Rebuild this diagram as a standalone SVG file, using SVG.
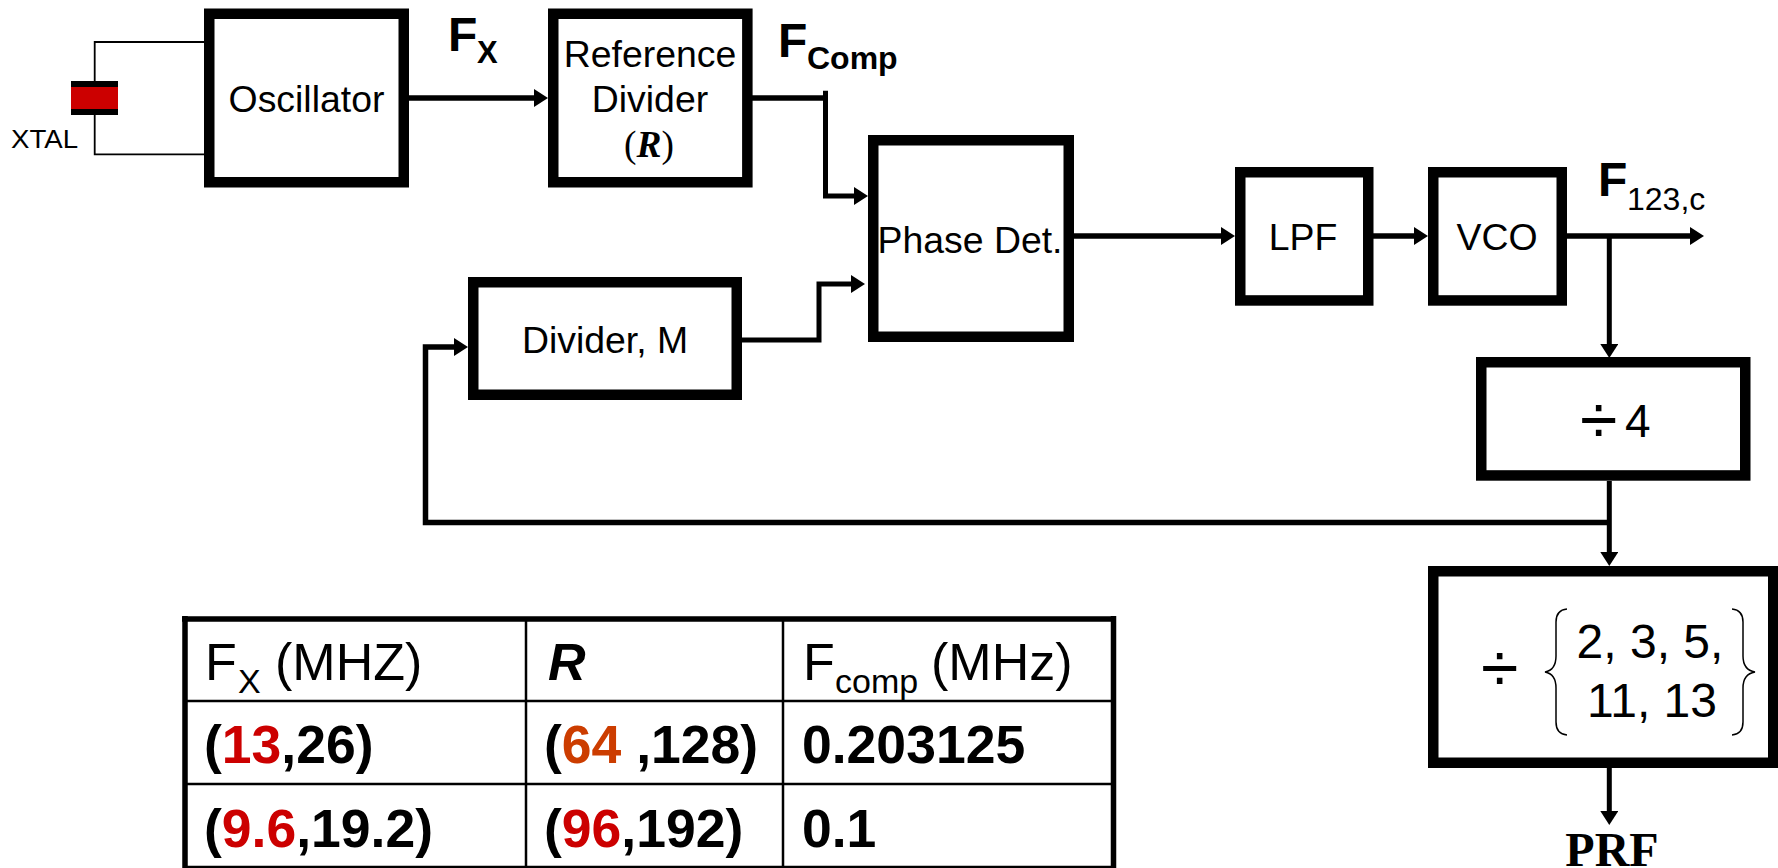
<svg xmlns="http://www.w3.org/2000/svg" width="1778" height="868" viewBox="0 0 1778 868">
<style>
text{font-family:"Liberation Sans",Arial,sans-serif;fill:#000}
.box{fill:#fff;stroke:#000;stroke-width:10.5}
.l{font-size:37.4px}
.m{text-anchor:middle}
.b{font-weight:700}
.w{fill:none;stroke:#000;stroke-width:1.8}
.c{fill:none;stroke:#000;stroke-width:5.6}
.a{marker-end:url(#ah)}
.brace{fill:none;stroke:#000;stroke-width:1.5}
.serif{font-family:"Liberation Serif","Times New Roman",serif}
.h{font-size:52px}
.v{font-size:53.5px;font-weight:700}
.s{font-size:34px}
.red{fill:#cc0000}
.org{fill:#cc3d00}
.t{stroke:#000;stroke-width:2.5;fill:none}
.T{stroke:#000;stroke-width:5.5;fill:none}
</style>
<defs>
<marker id="ah" markerUnits="userSpaceOnUse" markerWidth="16" markerHeight="20" refX="0" refY="9" orient="auto"><path d="M0 0L14 9L0 18z" fill="#000"/></marker>
</defs>
<g id="connectors">
<path class="w" d="M204 42H94.7V81M94.7 115V154.3H204"/>
<path class="c a" d="M409 98H534"/>
<path class="c" d="M752 98H825.5"/>
<path class="c a" d="M825.5 90.7V196H854" style="stroke-width:5"/>
<path class="c a" d="M742 340H819V284H851" style="stroke-width:5"/>
<path class="c a" d="M1609.3 522.5H425.5V347H454" style="stroke-width:5.5"/>
<path class="c a" d="M1074 236H1221"/>
<path class="c a" d="M1373 236H1414"/>
<path class="c a" d="M1567 236H1690"/>
<path class="c a" d="M1609.3 236V344" style="stroke-width:5"/>
<path class="c a" d="M1609.3 481V552" style="stroke-width:5"/>
<path class="c a" d="M1609.3 768V811" style="stroke-width:5"/>
</g>
<g id="xtal">
<rect x="71" y="81" width="47" height="34" fill="#000"/>
<rect x="71" y="87" width="47" height="22" fill="#cc0000"/>
<text x="11" y="148" font-size="25" textLength="67" lengthAdjust="spacingAndGlyphs">XTAL</text>
</g>
<g id="oscillator">
<rect class="box" x="209.25" y="13.75" width="194.5" height="168.5"/>
<text class="l m" x="306.5" y="112">Oscillator</text>
</g>
<g id="refdiv">
<rect class="box" x="553.25" y="13.75" width="194.1" height="168.5"/>
<text class="l m" x="650" y="67">Reference</text>
<text class="l m" x="650" y="112">Divider</text>
<text class="l m serif" x="649" y="157" font-size="39">(<tspan font-weight="700" font-style="italic">R</tspan>)</text>
</g>
<g id="fx-label">
<text class="b" x="448" y="51" font-size="48">F</text>
<text class="b" x="477" y="63" font-size="31">X</text>
</g>
<g id="fcomp-label">
<text class="b" x="778" y="57" font-size="48">F</text>
<text class="b" x="807" y="69" font-size="32">Comp</text>
</g>
<g id="phasedet">
<rect class="box" x="873.25" y="140.25" width="195.5" height="196.5"/>
<text class="l m" x="970" y="253">Phase Det.</text>
</g>
<g id="dividerm">
<rect class="box" x="473.25" y="282.25" width="263.5" height="112.5"/>
<text class="l m" x="605" y="353">Divider, M</text>
</g>
<g id="lpf">
<rect class="box" x="1240.25" y="172.25" width="128" height="128.2"/>
<text class="l m" x="1303" y="249.5">LPF</text>
</g>
<g id="vco">
<rect class="box" x="1433.25" y="172.25" width="128.5" height="128.2"/>
<text class="l m" x="1497" y="249.5">VCO</text>
</g>
<g id="f123-label">
<text class="b" x="1598" y="196" font-size="48">F</text>
<text x="1627" y="209.5" font-size="32">123,c</text>
</g>
<g id="div4">
<rect class="box" x="1481.25" y="362.25" width="264" height="113.2"/>
<text x="1580" y="443" font-size="68">÷</text>
<text x="1625" y="437" font-size="46">4</text>
</g>
<g id="divset">
<rect class="box" x="1433.25" y="571.25" width="340" height="191.5"/>
<text x="1481" y="691" font-size="68">÷</text>
<path class="brace" d="M1567 609Q1556 610 1556 622V656Q1556 670 1545 672Q1556 674 1556 688V722Q1556 734 1567 735"/>
<path class="brace" d="M1732 609Q1743 610 1743 622V656Q1743 670 1755 672Q1743 674 1743 688V722Q1743 734 1732 735"/>
<text class="m" x="1650" y="658" font-size="48">2, 3, 5,</text>
<text class="m" x="1652" y="717" font-size="48">11, 13</text>
</g>
<g id="prf-label">
<text class="serif b m" x="1612" y="866" font-size="48">PRF</text>
</g>
<g id="table">
<path class="T" d="M182 619H1116M185 616V868M1113.5 616V868"/>
<path class="t" d="M185 701H1113M185 784H1113M185 867H1113M526 618V868M783 618V868"/>
<text x="205" y="680" class="h">F</text><text x="238" y="693" class="s">X</text><text x="275" y="680" class="h">(MHZ)</text>
<text x="548" y="680" class="h b" font-style="italic">R</text>
<text x="803" y="680" class="h">F</text><text x="835" y="693" class="s">comp</text><text x="931" y="680" class="h">(MHz)</text>
<text x="204" y="763" class="v">(<tspan class="red">13</tspan>,26)</text>
<text x="544" y="763" class="v">(<tspan class="org">64 </tspan>,128)</text>
<text x="802" y="763" class="v">0.203125</text>
<text x="204" y="847" class="v">(<tspan class="red">9.6</tspan>,19.2)</text>
<text x="544" y="847" class="v">(<tspan class="red">96</tspan>,192)</text>
<text x="802" y="847" class="v">0.1</text>
</g>
</svg>
